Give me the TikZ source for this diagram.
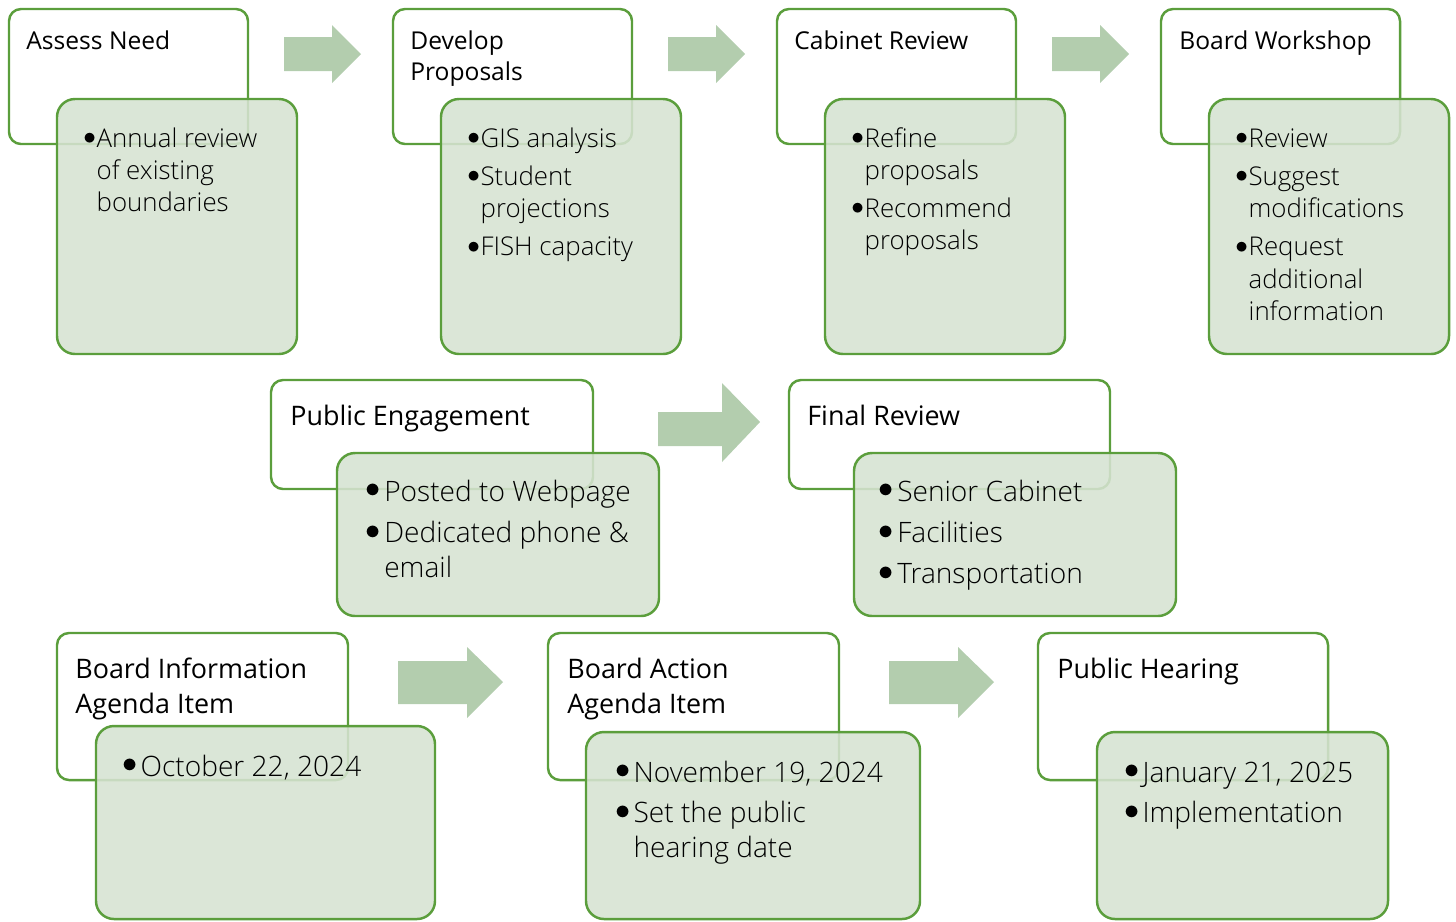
\documentclass[tikz,border=0pt]{standalone}
\usepackage{fontspec}
\setmainfont{Open Sans}
\IfFontExistsTF{Open Sans Light}{\newfontfamily\lightfont{Open Sans Light}}{\newfontfamily\lightfont{Open Sans}}
\definecolor{boxline}{HTML}{5B9E3C}
\definecolor{boxfill}{HTML}{D6E3D2}
\definecolor{barfill}{HTML}{B3CDAE}
\newlength{\bulw}
\newcommand{\bulmark}{\makebox[\bulw][l]{\hspace{-0.04em}\raisebox{0.11em}{$\bullet$}}}
\newcommand{\bul}[2]{\setlength{\bulw}{#1}\begin{tabular}[t]{@{}l@{}l@{}}#2\end{tabular}}
\newcommand{\ttl}[1]{\begin{tabular}[t]{@{}l@{}}#1\end{tabular}}
\tikzset{
  headbox/.style={draw=boxline, line width=1.4pt, rounded corners=0.24cm, fill=white},
  bodybox/.style={draw=boxline, line width=1.4pt, rounded corners=0.36cm, fill=boxfill, fill opacity=0.88},
  stepbar/.style={fill=barfill},
  smallttl/.style={anchor=base west, inner sep=0pt, font=\fontsize{14}{18.2}\selectfont},
  smalltxt/.style={anchor=base west, inner sep=0pt, font=\lightfont\fontsize{14.7}{18.4}\selectfont},
  bigttl/.style={anchor=base west, inner sep=0pt, font=\fontsize{15.3}{20.2}\selectfont},
  bigtxt/.style={anchor=base west, inner sep=0pt, font=\lightfont\fontsize{16}{19.8}\selectfont}
}
\begin{document}
\begin{tikzpicture}[x=0.02cm,y=-0.02cm]
\clip (0,0) rectangle (1456,921);
% first row
\foreach \dx in {0,384,768,1152} {
  \draw[headbox] (9+\dx,9) rectangle (248+\dx,144);
  \draw[bodybox] (57+\dx,99) rectangle (297+\dx,354);
}
\foreach \dx in {0,384,768}
  \fill[stepbar,shift={(\dx,0)}] (284,37) -- (332,37) -- (332,25) -- (361,54) -- (332,83) -- (332,71) -- (284,71) -- cycle;
\node[smallttl] (assess) at (26,49) {\ttl{Assess Need}};
\node[smallttl] (develop) at (410,49) {\ttl{Develop\\Proposals}};
\node[smallttl] (cabinet) at (794,49) {\ttl{Cabinet Review}};
\node[smallttl] (workshop) at (1179,49) {\ttl{Board Workshop}};
\node[smalltxt] (assessl) at (84,147) {\bul{7pt}{\bulmark & Annual review\\ & of existing\\ & boundaries}};
\node[smalltxt] (developl) at (468,147) {\bul{7pt}{\bulmark & GIS analysis\\[3.4pt] \bulmark & Student\\ & projections\\[3.4pt] \bulmark & FISH capacity}};
\node[smalltxt] (cabinetl) at (852,147) {\bul{7pt}{\bulmark & Refine\\ & proposals\\[3.4pt] \bulmark & Recommend\\ & proposals}};
\node[smalltxt] (workshopl) at (1236,147) {\bul{7pt}{\bulmark & Review\\[3.4pt] \bulmark & Suggest\\ & modifications\\[3.4pt] \bulmark & Request\\ & additional\\ & information}};
% second row
\draw[headbox] (271,380) rectangle (593,489);
\draw[bodybox] (337,453) rectangle (659,616);
\draw[headbox] (789,380) rectangle (1110,489);
\draw[bodybox] (854,453) rectangle (1176,616);
\fill[stepbar] (658,412) -- (722,412) -- (722,383) -- (760,422) -- (722,462) -- (722,446) -- (658,446) -- cycle;
\node[bigttl] (engage) at (290,425) {\ttl{Public Engagement}};
\node[bigttl] (final) at (807,425) {\ttl{Final Review}};
\node[bigtxt] (engagel) at (366,501) {\bul{10.2pt}{\bulmark & Posted to Webpage\\[3.8pt] \bulmark & Dedicated phone \&\\ & email}};
\node[bigtxt] (finall) at (879,501) {\bul{10.2pt}{\bulmark & Senior Cabinet\\[3.8pt] \bulmark & Facilities\\[3.8pt] \bulmark & Transportation}};
% third row
\draw[headbox] (57,633) rectangle (348,780);
\draw[bodybox] (96,726) rectangle (435,919);
\draw[headbox] (548,633) rectangle (839,780);
\draw[bodybox] (586,732) rectangle (920,919);
\draw[headbox] (1038,633) rectangle (1328,780);
\draw[bodybox] (1097,732) rectangle (1388,919);
\foreach \dx in {0,491}
  \fill[stepbar,shift={(\dx,0)}] (398,661) -- (467,661) -- (467,647) -- (503,682) -- (467,718) -- (467,704) -- (398,704) -- cycle;
\node[bigttl] (info) at (75,678) {\ttl{Board Information\\Agenda Item}};
\node[bigttl] (action) at (567,678) {\ttl{Board Action\\Agenda Item}};
\node[bigttl] (hearing) at (1057,678) {\ttl{Public Hearing}};
\node[bigtxt] (infol) at (123,776) {\bul{9.8pt}{\bulmark & October 22, 2024}};
\node[bigtxt] (actionl) at (616,782) {\bul{9.8pt}{\bulmark & November 19, 2024\\[3.4pt] \bulmark & Set the public\\ & hearing date}};
\node[bigtxt] (hearingl) at (1125,782) {\bul{9.8pt}{\bulmark & January 21, 2025\\[3.4pt] \bulmark & Implementation}};
\end{tikzpicture}
\end{document}
